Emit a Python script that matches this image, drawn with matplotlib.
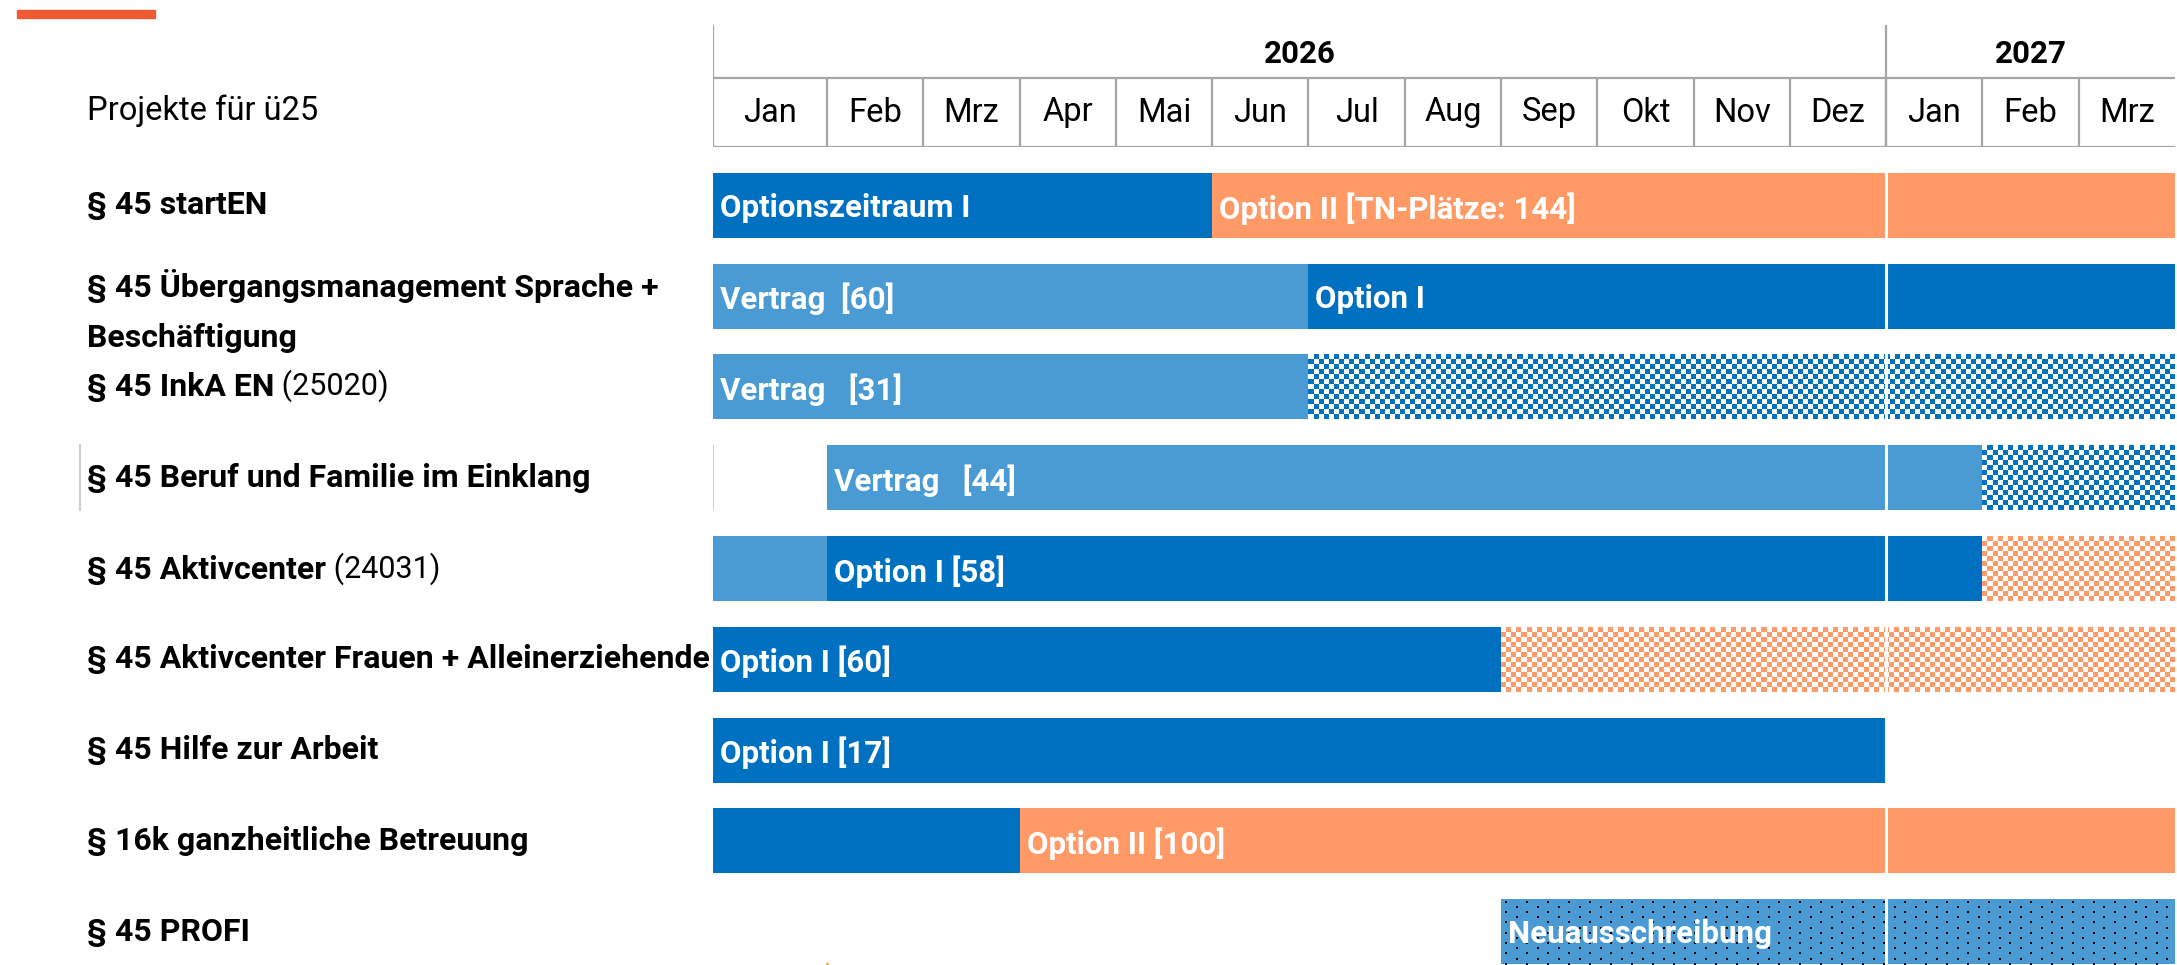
import numpy as np
import matplotlib
matplotlib.use("Agg")
import matplotlib.pyplot as plt
from matplotlib.colors import ListedColormap
from matplotlib.patches import Rectangle
from matplotlib import transforms

plt.rcParams['font.family'] = ['Roboto', 'DejaVu Sans']

# timeline: month 0 = Jan 2026, 12 = Jan 2027, 15 = end of Mrz 2027
months = ["Jan", "Feb", "Mrz", "Apr", "Mai", "Jun", "Jul", "Aug", "Sep", "Okt", "Nov", "Dez",
          "Jan", "Feb", "Mrz"]
years = ["2026", "2027"]
year_start = [0, 12]
year_end = [12, 15]

# projects (rows, top to bottom)
projects = ["§ 45 startEN",
            "§ 45 Übergangsmanagement Sprache +\nBeschäftigung",
            "§ 45 InkA EN",
            "§ 45 Beruf und Familie im Einklang",
            "§ 45 Aktivcenter",
            "§ 45 Aktivcenter Frauen + Alleinerziehende",
            "§ 45 Hilfe zur Arbeit",
            "§ 16k ganzheitliche Betreuung",
            "§ 45 PROFI"]
project_ids = ["", "", "(25020)", "", "(24031)", "", "", "", ""]

# bar segments
seg_row = [0, 0, 1, 1, 2, 2, 3, 3, 4, 4, 4, 5, 5, 6, 7, 7, 8]
seg_start = [0, 5, 0, 6, 0, 6, 1, 13, 0, 1, 13, 0, 8, 0, 0, 3, 8]
seg_end = [5, 15, 6, 15, 6, 15, 13, 15, 1, 13, 15, 8, 15, 12, 3, 15, 15]
seg_kind = ["option1", "option2", "vertrag", "option1", "vertrag", "ext_blue",
            "vertrag", "ext_blue", "vertrag", "option1", "ext_orange",
            "option1", "ext_orange", "option1", "option1", "option2", "neu"]
seg_label = ["Optionszeitraum I", "Option II [TN-Plätze: 144]", "Vertrag  [60]", "Option I",
             "Vertrag   [31]", "", "Vertrag   [44]", "", "", "Option I [58]", "",
             "Option I [60]", "", "Option I [17]", "", "Option II [100]", "Neuausschreibung"]

# milestone marker at the bottom
milestone = [1.0]

dark_blue = "#0070C0"
light_blue = "#4A9AD4"
orange = "#FF9966"
grid_gray = "#A6A6A6"
kind_color = {"option1": dark_blue, "vertrag": light_blue, "option2": orange,
              "ext_blue": dark_blue, "ext_orange": orange, "neu": light_blue}

# first column (Jan 2026) is a bit wider than the others
first_w = 1.184


def fwd(x):
    x = np.asarray(x, dtype=float)
    return np.where(x < 1, x * first_w, x + first_w - 1)


def inv(p):
    p = np.asarray(p, dtype=float)
    return np.where(p < first_w, p / first_w, p - first_w + 1)


W, H = 2177, 965
fig = plt.figure(figsize=(W / 100, H / 100), dpi=100)

x_left = 713 / W
x_width = 1 - x_left - 2 / W
ax = fig.add_axes([x_left, 0, x_width, 1 - 147 / H])
axh = fig.add_axes([x_left, 1 - 147 / H, x_width, 122 / H], sharex=ax)

ax.set_xscale('function', functions=(fwd, inv))
ax.set_xlim(0, 15)
ax.set_ylim(8.368, -0.644)
ax.axis('off')

bar_h = 0.716
sq_x = 0.053
sq_y = 0.056

for r, s, e, k, lab in zip(seg_row, seg_start, seg_end, seg_kind, seg_label):
    c = kind_color[k]
    if k.startswith("ext"):
        # checkered extension
        nx = int(round((e - s) / sq_x))
        ny = int(round(bar_h / sq_y))
        xe = np.linspace(s, e, nx + 1)
        ye = np.linspace(r - bar_h / 2, r + bar_h / 2, ny + 1)
        C = (np.add.outer(np.arange(ny), np.arange(nx)) % 2)
        ax.pcolormesh(xe, ye, C, cmap=ListedColormap(["white", c]),
                      edgecolors='none', antialiased=False, zorder=2)
    else:
        ax.barh(r, e - s, left=s, height=bar_h, color=c, linewidth=0, zorder=2)
    if k == "neu":
        # dotted fill
        px = 0.218
        py = 0.057
        ys = np.arange(r - bar_h / 2 + py / 2, r + bar_h / 2, py)
        for j, yy in enumerate(ys):
            xs = np.arange(s + px / 4 + (px / 2 if j % 2 else 0), e, px)
            ax.scatter(xs, np.full(len(xs), yy), s=3.5, marker='s', color='black',
                       linewidths=0, zorder=3)
    if lab:
        ax.annotate(lab, (s, r), xytext=(5, -2), textcoords='offset points',
                    ha='left', va='center', color='white', fontsize=22.5,
                    fontweight='bold', zorder=6)

# white gap at the year boundary
ax.axvline(12, color='white', lw=2.2, zorder=5)

# thin gray lines in the empty start of row 4
ax.vlines(0, 3 - bar_h / 2, 3 + bar_h / 2, color='#D0D0D0', lw=1.5, zorder=1)
blend = transforms.blended_transform_factory(fig.transFigure, ax.transData)
ax.plot([80 / W, 80 / W], [3 - bar_h / 2, 3 + bar_h / 2], color='#D0D0D0', lw=1.5,
        transform=blend, clip_on=False)

# milestone triangle
ax.scatter(milestone, [8.40] * len(milestone), marker='^', s=90, color='#F39C12',
           linewidths=0, zorder=6)

# row labels
label_dy = [0, 0.16, 0, 0, 0.02, 0, 0, 0, 0]
for i, (name, pid) in enumerate(zip(projects, project_ids)):
    t = ax.text(87 / W, i + label_dy[i], name, transform=blend, ha='left', va='center',
                fontsize=23, fontweight='bold', linespacing=1.85, clip_on=False)
    if pid:
        ax.annotate(" " + pid, xy=(1, 0), xycoords=t, ha='left', va='bottom',
                    fontsize=22, fontweight='normal')

# header grid
row_div = 69 / 122
axh.set_ylim(0, 1)
axh.axis('off')
axh.hlines([0, row_div], 0, 15, color=grid_gray, lw=1.6)
axh.vlines(range(1, 15), 0, row_div, color=grid_gray, lw=1.6)
axh.vlines([0, 12], 0, 1, color=grid_gray, lw=1.6)
for i, m in enumerate(months):
    axh.text(i + 0.5, row_div / 2, m, ha='center', va='center', fontsize=23.5)
for y, s, e in zip(years, year_start, year_end):
    axh.text(inv((fwd(s) + fwd(e)) / 2), (1 + row_div) / 2 - 0.02, y,
             ha='center', va='center', fontsize=22.5, fontweight='bold')

# title and accent bar
fig.text(87 / W, 1 - 111 / H, "Projekte für ü25", ha='left', va='center', fontsize=23.5)
fig.patches.append(Rectangle((17 / W, 1 - 18 / H), 138 / W, 8 / H,
                             transform=fig.transFigure, color='#EE5A32'))

fig.savefig("out.png", dpi=100)
